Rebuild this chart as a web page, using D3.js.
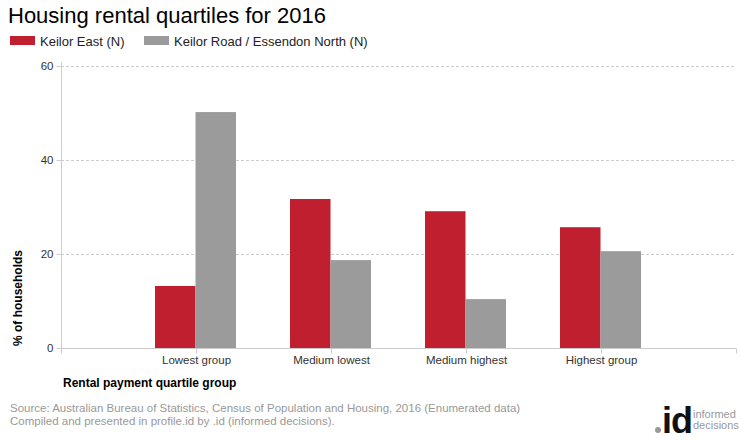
<!DOCTYPE html>
<html><head><meta charset="utf-8">
<script src="https://cdn.jsdelivr.net/npm/d3@7"></script>
<style>body{margin:0;background:#fff}svg{display:block;font-family:"Liberation Sans",Arial,sans-serif}</style>
</head><body><svg id="c" width="740" height="440"></svg>
<script>
const categories = ["Lowest group","Medium lowest","Medium highest","Highest group"];
const seriesNames = ["Keilor East (N)","Keilor Road / Essendon North (N)"];
const keilorEast = [13.2, 31.7, 29.1, 25.7];
const keilorRoad = [50.2, 18.7, 10.4, 20.6];
const yTicks = [0, 20, 40, 60];
const colors = ["#C01F2F", "#9B9B9B"];

const svg = d3.select("#c");
const L = 61, R = 736, T = 66, B = 348;
const x = d3.scalePoint().domain(categories).range([L, R]).padding(1);
const y = d3.scaleLinear().domain([0, 60]).range([B, T]);
const sub = d3.scaleBand().domain([0,1]).range([-41, 40]);

svg.append("text").attr("x", 8).attr("y", 23).attr("font-size", 22).attr("fill", "#000")
  .text("Housing rental quartiles for 2016");

// legend
const lx = [10, 144];
seriesNames.forEach((n, i) => {
  svg.append("rect").attr("x", lx[i]).attr("y", 36).attr("width", 25).attr("height", 9).attr("fill", colors[i]);
  svg.append("text").attr("x", lx[i] + 30).attr("y", 45.5).attr("font-size", 13).attr("fill", "#222").text(n);
});

// grid
svg.append("g").selectAll("line").data(yTicks.filter(d => d > 0)).join("line")
  .attr("x1", L).attr("x2", R).attr("y1", d => y(d) + 0.5).attr("y2", d => y(d) + 0.5)
  .attr("stroke", "#cccccc").attr("stroke-dasharray", "3,2");

// bars
const data = [keilorEast, keilorRoad];
data.forEach((vals, si) => {
  svg.append("g").selectAll("rect").data(vals).join("rect")
    .attr("x", (d, i) => x(categories[i]) + sub(si))
    .attr("width", sub.bandwidth())
    .attr("y", d => y(d)).attr("height", d => y(0) - y(d))
    .attr("fill", colors[si]);
});

// y axis
const yAxis = svg.append("g").attr("transform", `translate(${L + 0.5},0)`)
  .call(d3.axisLeft(y).tickValues(yTicks).tickSize(5).tickPadding(3));
yAxis.select(".domain").attr("stroke", "#cccccc").attr("d", `M0,${T - 4}V${B}`);
yAxis.selectAll(".tick line").attr("stroke", "#cccccc");
yAxis.selectAll("text").attr("font-size", 11.5).attr("fill", "#333").attr("font-family", "Liberation Sans, Arial");

// x axis
const xAxis = svg.append("g").attr("transform", `translate(0,${B + 0.5})`)
  .call(d3.axisBottom(x).tickSize(5).tickPadding(2));
xAxis.select(".domain").attr("stroke", "#cccccc").attr("d", `M${L},0H${R}`);
xAxis.selectAll(".tick line").attr("stroke", "#cccccc");
xAxis.selectAll("text").attr("font-size", 11.5).attr("fill", "#333").attr("font-family", "Liberation Sans, Arial");
[L, R].forEach(px => xAxis.append("line").attr("x1", px + 0.5).attr("x2", px + 0.5).attr("y1", 0).attr("y2", 5).attr("stroke", "#cccccc"));

// axis titles
svg.append("text").attr("transform", "translate(22,346) rotate(-90)").attr("font-size", 12)
  .attr("font-weight", "bold").attr("fill", "#000").text("% of households");
svg.append("text").attr("x", 63).attr("y", 387).attr("font-size", 12).attr("font-weight", "bold")
  .attr("fill", "#000").text("Rental payment quartile group");

// source
svg.append("text").attr("x", 10).attr("y", 412).attr("font-size", 11.5).attr("fill", "#999")
  .text("Source: Australian Bureau of Statistics, Census of Population and Housing, 2016 (Enumerated data)");
svg.append("text").attr("x", 10).attr("y", 425).attr("font-size", 11.5).attr("fill", "#999")
  .text("Compiled and presented in profile.id by .id (informed decisions).");

// logo
svg.append("circle").attr("cx", 658).attr("cy", 430).attr("r", 3).attr("fill", "#999");
svg.append("text").attr("x", 662).attr("y", 433).attr("font-size", 36).attr("font-weight", "bold")
  .attr("fill", "#111").attr("letter-spacing", -1).text("id");
svg.append("text").attr("x", 693).attr("y", 418).attr("font-size", 11).attr("fill", "#999").text("informed");
svg.append("text").attr("x", 693).attr("y", 429).attr("font-size", 11).attr("fill", "#999").text("decisions");
</script></body></html>
